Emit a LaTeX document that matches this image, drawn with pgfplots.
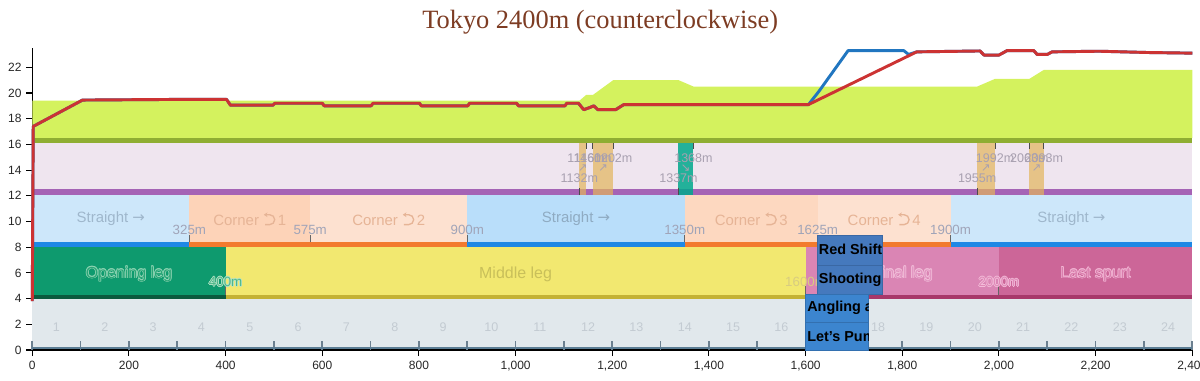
\documentclass[border=0pt]{standalone}
\usepackage{pgfplots}
\pgfplotsset{compat=1.18}
\usetikzlibrary{arrows.meta}
\usepackage{fontspec}
\setmainfont{Liberation Sans}
\newfontfamily\titlefont{Liberation Serif}
\newfontfamily\symfont{DejaVu Sans}

\definecolor{sectband}{HTML}{E1E8EC}
\definecolor{slate}{HTML}{5B7D94}
\definecolor{secttick}{HTML}{6C8090}
\definecolor{openc}{HTML}{0E9A6E}
\definecolor{openl}{HTML}{0B5A3E}
\definecolor{midc}{HTML}{F2E870}
\definecolor{midl}{HTML}{C4B234}
\definecolor{finc}{HTML}{DA85B4}
\definecolor{lastc}{HTML}{CC6698}
\definecolor{pinkl}{HTML}{A8386A}
\definecolor{str1}{HTML}{CDE7FA}
\definecolor{str2}{HTML}{B9DEFA}
\definecolor{cor1}{HTML}{FDD3B8}
\definecolor{cor2}{HTML}{FDE1D0}
\definecolor{cor3}{HTML}{FDD8C0}
\definecolor{strl}{HTML}{1E88E5}
\definecolor{corl}{HTML}{F27A2E}
\definecolor{slopeband}{HTML}{EFE5EF}
\definecolor{purplel}{HTML}{A563B5}
\definecolor{uphill}{HTML}{E3B55C}
\definecolor{downhill}{HTML}{00A88C}
\definecolor{terrain}{HTML}{D4F25E}
\definecolor{olive}{HTML}{8FAE32}
\definecolor{redline}{HTML}{CC3333}
\definecolor{blueline}{HTML}{2176C0}
\definecolor{skillA}{HTML}{4579BD}
\definecolor{skillB}{HTML}{3C85CF}
\definecolor{skillAd}{HTML}{3A68A4}
\definecolor{skillBd}{HTML}{3370B0}
\definecolor{titlec}{RGB}{125,60,35}
\definecolor{distc}{HTML}{A0A4B8}
\definecolor{strtxt}{HTML}{9FB7CC}
\definecolor{strtxtb}{HTML}{8FABC2}
\definecolor{cortxt}{HTML}{E6B496}
\definecolor{secttxt}{HTML}{C3CBD2}
\definecolor{slopetxt}{HTML}{A8A0B0}
\definecolor{opentxt}{HTML}{2AA677}
\definecolor{openout}{HTML}{8FD4B4}
\definecolor{ftxt}{HTML}{4FB88A}
\definecolor{fout}{HTML}{B5E3C8}
\definecolor{midtxt}{HTML}{C9C05A}
\definecolor{d1600}{HTML}{D8CC80}
\definecolor{fintxt}{HTML}{E296C2}
\definecolor{finout}{HTML}{F2BED9}
\definecolor{dtxt}{HTML}{E08AB8}
\definecolor{dout}{HTML}{F3BCD9}
\definecolor{lasttxt}{HTML}{DA7FAE}
\definecolor{lastout}{HTML}{F2B6D4}

% counterclockwise U-turn arrow symbol (no installed font has U+2B8C)
\newcommand{\cturn}{\tikz[baseline=-0.05em]{\draw[cortxt, line width=1pt, -{Stealth[length=2.8pt,width=3.6pt]}] (0,0) -- (0.32em,0) arc[start angle=-90, end angle=90, radius=0.33em] -- (-0.08em,0.66em);}}

\newcommand{\rect}[5]{\addplot[draw=none, forget plot, #5] coordinates {(#1,#3) (#2,#3) (#2,#4) (#1,#4)} -- cycle;}
\newcommand{\lblfont}{\fontsize{11.2}{13}\selectfont}
\newcommand{\phfont}{\fontsize{12}{14}\selectfont}
\newcommand{\smfont}{\fontsize{9.4}{11}\selectfont}
\newcommand{\dfont}{\fontsize{10}{12}\selectfont}
\newcommand{\skfont}{\fontsize{10.8}{12}\selectfont\bfseries}
\newcommand{\olbl}[6]{%
  \node[text=#5, xshift=0.5pt, font=#6] at (axis cs:#1,#2) {#3};
  \node[text=#5, xshift=-0.5pt, font=#6] at (axis cs:#1,#2) {#3};
  \node[text=#5, yshift=0.5pt, font=#6] at (axis cs:#1,#2) {#3};
  \node[text=#5, yshift=-0.5pt, font=#6] at (axis cs:#1,#2) {#3};
  \node[text=#5, xshift=0.35pt, yshift=0.35pt, font=#6] at (axis cs:#1,#2) {#3};
  \node[text=#5, xshift=-0.35pt, yshift=0.35pt, font=#6] at (axis cs:#1,#2) {#3};
  \node[text=#5, xshift=0.35pt, yshift=-0.35pt, font=#6] at (axis cs:#1,#2) {#3};
  \node[text=#5, xshift=-0.35pt, yshift=-0.35pt, font=#6] at (axis cs:#1,#2) {#3};
  \node[text=#4, font=#6] at (axis cs:#1,#2) {#3};}

\begin{document}
\begin{tikzpicture}
\begin{axis}[
  at={(0,0)}, anchor=south west,
  scale only axis, width=870pt, height=226.5pt,
  xmin=0, xmax=2400, ymin=0, ymax=23.5,
  axis x line=bottom, axis y line=left,
  axis line style={-, black, line width=1pt},
  xtick={0,200,...,2400}, ytick={0,2,...,22},
  tick style={black, line width=0.8pt}, major tick length=4.5pt, tick align=outside,
  /pgf/number format/assume math mode=true,
  /pgf/number format/1000 sep={,},
  ticklabel style={font=\fontsize{9}{10}\selectfont, text=black!85},
  clip=false,
]
% ---- section band ----
\rect{0}{2400}{0.27}{3.95}{fill=sectband}
\addplot[ycomb, mark=none, draw=secttick, line width=1.2pt, forget plot] coordinates {
(0,0.7) (100,0.7) (200,0.7) (300,0.7) (400,0.7) (500,0.7) (600,0.7) (700,0.7) (800,0.7) (900,0.7) (1000,0.7) (1100,0.7) (1200,0.7) (1300,0.7) (1400,0.7) (1500,0.7) (1600,0.7) (1700,0.7) (1800,0.7) (1900,0.7) (2000,0.7) (2100,0.7) (2200,0.7) (2300,0.7) (2400,0.7)};
\rect{0}{2400}{0.05}{0.27}{fill=slate}
% ---- phase band ----
\rect{0}{400}{4.28}{8.0}{fill=openc}
\rect{400}{1600}{4.28}{8.0}{fill=midc}
\rect{1600}{2000}{4.28}{8.0}{fill=finc}
\rect{2000}{2400}{4.28}{8.0}{fill=lastc}
\rect{0}{400}{3.95}{4.28}{fill=openl}
\rect{400}{1600}{3.95}{4.28}{fill=midl}
\rect{1600}{2400}{3.95}{4.28}{fill=pinkl}
% ---- corner / straight band ----
\rect{0}{325}{8.4}{12.05}{fill=str1}
\rect{325}{575}{8.4}{12.05}{fill=cor1}
\rect{575}{900}{8.4}{12.05}{fill=cor2}
\rect{900}{1350}{8.4}{12.05}{fill=str2}
\rect{1350}{1625}{8.4}{12.05}{fill=cor3}
\rect{1625}{1900}{8.4}{12.05}{fill=cor2}
\rect{1900}{2400}{8.4}{12.05}{fill=str1}
\rect{0}{325}{8.0}{8.4}{fill=strl}
\rect{325}{900}{8.0}{8.4}{fill=corl}
\rect{900}{1350}{8.0}{8.4}{fill=strl}
\rect{1350}{1900}{8.0}{8.4}{fill=corl}
\rect{1900}{2400}{8.0}{8.4}{fill=strl}
% ---- slope band ----
\rect{0}{2400}{12.5}{16.1}{fill=slopeband}
\rect{0}{2400}{12.05}{12.5}{fill=purplel}
\rect{1132}{1146}{12.05}{16.1}{fill=uphill, fill opacity=0.7}
\rect{1160}{1202}{12.05}{16.1}{fill=uphill, fill opacity=0.7}
\rect{1337}{1368}{12.05}{16.1}{fill=downhill, fill opacity=0.85}
\rect{1955}{1992}{12.05}{16.1}{fill=uphill, fill opacity=0.7}
\rect{2063}{2093}{12.05}{16.1}{fill=uphill, fill opacity=0.7}
% slope boundary ticks
\addplot[draw=black!70, line width=0.7pt, forget plot] coordinates {(1132,12.05) (1132,12.6)};
\addplot[draw=black!70, line width=0.7pt, forget plot] coordinates {(1337,12.05) (1337,12.6)};
\addplot[draw=black!70, line width=0.7pt, forget plot] coordinates {(1955,12.05) (1955,12.6)};
\addplot[draw=black!70, line width=0.7pt, forget plot] coordinates {(1146,15.65) (1146,16.1)};
\addplot[draw=black!70, line width=0.7pt, forget plot] coordinates {(1160,15.65) (1160,16.1)};
\addplot[draw=black!70, line width=0.7pt, forget plot] coordinates {(1202,15.65) (1202,16.1)};
\addplot[draw=black!70, line width=0.7pt, forget plot] coordinates {(1368,15.65) (1368,16.1)};
\addplot[draw=black!70, line width=0.7pt, forget plot] coordinates {(1992,15.65) (1992,16.1)};
\addplot[draw=black!70, line width=0.7pt, forget plot] coordinates {(2063,15.65) (2063,16.1)};
\addplot[draw=black!70, line width=0.7pt, forget plot] coordinates {(2093,15.65) (2093,16.1)};
% ---- terrain ----
\rect{0}{2400}{16.1}{16.5}{fill=olive}
\addplot[draw=none, fill=terrain, forget plot] coordinates {
(0,16.5) (0,19.4) (1132,19.4) (1146,19.85) (1160,19.85) (1202,21.0) (1337,21.0) (1368,20.5)
(1955,20.5) (1992,21.1) (2063,21.1) (2093,21.8) (2400,21.8) (2400,16.5)} -- cycle;
% ---- boundary ticks in corner / phase bands ----
\addplot[draw=black!60, line width=0.7pt, forget plot] coordinates {(325,8.4) (325,8.95)};
\addplot[draw=black!60, line width=0.7pt, forget plot] coordinates {(575,8.4) (575,8.95)};
\addplot[draw=black!60, line width=0.7pt, forget plot] coordinates {(900,8.4) (900,8.95)};
\addplot[draw=black!60, line width=0.7pt, forget plot] coordinates {(1350,8.4) (1350,8.95)};
\addplot[draw=black!60, line width=0.7pt, forget plot] coordinates {(1625,8.4) (1625,8.95)};
\addplot[draw=black!60, line width=0.7pt, forget plot] coordinates {(1900,8.4) (1900,8.95)};
\addplot[draw=black!60, line width=0.7pt, forget plot] coordinates {(400,4.28) (400,4.95)};
\addplot[draw=black!60, line width=0.7pt, forget plot] coordinates {(1600,4.28) (1600,4.95)};
\addplot[draw=black!60, line width=0.7pt, forget plot] coordinates {(2000,4.28) (2000,4.95)};
% ---- texts: sections ----
\node[text=secttxt, font=\smfont] at (axis cs:50,1.8) {1};
\node[text=secttxt, font=\smfont] at (axis cs:150,1.8) {2};
\node[text=secttxt, font=\smfont] at (axis cs:250,1.8) {3};
\node[text=secttxt, font=\smfont] at (axis cs:350,1.8) {4};
\node[text=secttxt, font=\smfont] at (axis cs:450,1.8) {5};
\node[text=secttxt, font=\smfont] at (axis cs:550,1.8) {6};
\node[text=secttxt, font=\smfont] at (axis cs:650,1.8) {7};
\node[text=secttxt, font=\smfont] at (axis cs:750,1.8) {8};
\node[text=secttxt, font=\smfont] at (axis cs:850,1.8) {9};
\node[text=secttxt, font=\smfont] at (axis cs:950,1.8) {10};
\node[text=secttxt, font=\smfont] at (axis cs:1050,1.8) {11};
\node[text=secttxt, font=\smfont] at (axis cs:1150,1.8) {12};
\node[text=secttxt, font=\smfont] at (axis cs:1250,1.8) {13};
\node[text=secttxt, font=\smfont] at (axis cs:1350,1.8) {14};
\node[text=secttxt, font=\smfont] at (axis cs:1450,1.8) {15};
\node[text=secttxt, font=\smfont] at (axis cs:1550,1.8) {16};
\node[text=secttxt, font=\smfont] at (axis cs:1650,1.8) {17};
\node[text=secttxt, font=\smfont] at (axis cs:1750,1.8) {18};
\node[text=secttxt, font=\smfont] at (axis cs:1850,1.8) {19};
\node[text=secttxt, font=\smfont] at (axis cs:1950,1.8) {20};
\node[text=secttxt, font=\smfont] at (axis cs:2050,1.8) {21};
\node[text=secttxt, font=\smfont] at (axis cs:2150,1.8) {22};
\node[text=secttxt, font=\smfont] at (axis cs:2250,1.8) {23};
\node[text=secttxt, font=\smfont] at (axis cs:2350,1.8) {24};
% ---- texts: phases ----
\olbl{200}{5.9}{Opening leg}{opentxt}{openout}{\phfont}
\olbl{400}{5.3}{400m}{ftxt}{fout}{\dfont}
\node[text=midtxt, font=\phfont] at (axis cs:1000,5.9) {Middle leg};
\node[text=d1600, font=\dfont] at (axis cs:1600,5.3) {1600m};
\olbl{1800}{5.9}{Final leg}{fintxt}{finout}{\phfont}
\olbl{2000}{5.3}{2000m}{dtxt}{dout}{\dfont}
\olbl{2200}{5.9}{Last spurt}{lasttxt}{lastout}{\phfont}
% ---- texts: corners ----
\node[text=strtxt, font=\lblfont] at (axis cs:162.5,10.2) {Straight {\symfont →}};
\node[text=cortxt, font=\lblfont] at (axis cs:450,10.2) {Corner \cturn\,1};
\node[text=cortxt, font=\lblfont] at (axis cs:737.5,10.2) {Corner \cturn\,2};
\node[text=strtxtb, font=\lblfont] at (axis cs:1125,10.2) {Straight {\symfont →}};
\node[text=cortxt, font=\lblfont] at (axis cs:1487.5,10.2) {Corner \cturn\,3};
\node[text=cortxt, font=\lblfont] at (axis cs:1762.5,10.2) {Corner \cturn\,4};
\node[text=strtxt, font=\lblfont] at (axis cs:2150,10.2) {Straight {\symfont →}};
\node[text=distc, font=\dfont] at (axis cs:325,9.35) {325m};
\node[text=distc, font=\dfont] at (axis cs:575,9.35) {575m};
\node[text=distc, font=\dfont] at (axis cs:900,9.35) {900m};
\node[text=distc, font=\dfont] at (axis cs:1350,9.35) {1350m};
\node[text=distc, font=\dfont] at (axis cs:1625,9.35) {1625m};
\node[text=distc, font=\dfont] at (axis cs:1900,9.35) {1900m};
% ---- texts: slopes ----
\node[text=slopetxt, font=\smfont] at (axis cs:1132,13.35) {1132m};
\node[text=slopetxt, font=\smfont] at (axis cs:1337,13.35) {1337m};
\node[text=slopetxt, font=\smfont] at (axis cs:1955,13.35) {1955m};
\node[text=slopetxt, font=\smfont] at (axis cs:1146,14.9) {1146m};
\node[text=slopetxt, font=\smfont] at (axis cs:1160,14.9) {1160m};
\node[text=slopetxt, font=\smfont] at (axis cs:1202,14.9) {1202m};
\node[text=slopetxt, font=\smfont] at (axis cs:1368,14.9) {1368m};
\node[text=slopetxt, font=\smfont] at (axis cs:1992,14.9) {1992m};
\node[text=slopetxt, font=\smfont] at (axis cs:2063,14.9) {2063m};
\node[text=slopetxt, font=\smfont] at (axis cs:2093,14.9) {2093m};
\node[text=slopetxt, font=\symfont\fontsize{8.5}{10}\selectfont] at (axis cs:1139,14.15) {↗};
\node[text=slopetxt, font=\symfont\fontsize{8.5}{10}\selectfont] at (axis cs:1181,14.15) {↗};
\node[text=slopetxt, font=\symfont\fontsize{8.5}{10}\selectfont] at (axis cs:1352,14.15) {↘};
\node[text=slopetxt, font=\symfont\fontsize{8.5}{10}\selectfont] at (axis cs:1973,14.15) {↗};
\node[text=slopetxt, font=\symfont\fontsize{8.5}{10}\selectfont] at (axis cs:2078,14.15) {↗};
% ---- skills ----
\rect{1625}{1759}{6.6}{8.9}{fill=skillA, draw=skillAd, line width=0.4pt}
\rect{1625}{1759}{4.3}{6.6}{fill=skillA, draw=skillAd, line width=0.4pt}
\rect{1600}{1730}{2.15}{4.3}{fill=skillB, draw=skillBd, line width=0.4pt}
\rect{1600}{1730}{0.0}{2.15}{fill=skillB, draw=skillBd, line width=0.4pt}
\begin{scope}
\clip (axis cs:1625,4.3) rectangle (axis cs:1759,8.9);
\node[anchor=west, inner sep=0pt, text=black, font=\skfont] at (axis cs:1627,7.8) {Red Shift};
\node[anchor=west, inner sep=0pt, text=black, font=\skfont] at (axis cs:1627,5.5) {Shooting Star};
\end{scope}
\begin{scope}
\clip (axis cs:1600,0) rectangle (axis cs:1730,4.3);
\node[anchor=west, inner sep=0pt, text=black, font=\skfont] at (axis cs:1603,3.25) {Angling and Scheming};
\node[anchor=west, inner sep=0pt, text=black, font=\skfont] at (axis cs:1603,0.95) {Let's Pump Some Iron!};
\end{scope}
% ---- speed lines ----
\addplot[blueline, line width=2.2pt, line join=round, mark=none] coordinates {
(0,3.8) (2,17.4) (104,19.45) (300,19.5) (402,19.5) (410,19.05) (498,19.05) (502,19.2) (600,19.2) (604,19.0) (701,19.0) (705,19.2) (801,19.2) (805,19.0) (901,19.0) (905,19.2) (1002,19.2) (1006,19.0) (1102,19.0) (1106,19.2) (1130,19.2) (1141,18.7) (1152,18.85) (1162,19.0) (1170,18.7) (1207,18.7) (1224,19.1) (1606,19.1)
(1627,20.1) (1688,23.3) (1803,23.3) (1813,23.0) (1830,23.2)
(1961,23.27) (1969,22.95) (2000,22.95) (2017,23.3) (2072,23.3) (2079,23.0) (2100,23.0) (2110,23.2) (2207,23.25) (2307,23.15) (2400,23.1)};
\addplot[redline, line width=2.2pt, line join=round, mark=none] coordinates {
(0,3.8) (2,17.4) (104,19.45) (300,19.5) (402,19.5) (410,19.05) (498,19.05) (502,19.2) (600,19.2) (604,19.0) (701,19.0) (705,19.2) (801,19.2) (805,19.0) (901,19.0) (905,19.2) (1002,19.2) (1006,19.0) (1102,19.0) (1106,19.2) (1130,19.2) (1141,18.7) (1152,18.85) (1162,19.0) (1170,18.7) (1207,18.7) (1224,19.1) (1606,19.1)
(1830,23.2)
(1961,23.27) (1969,22.95) (2000,22.95) (2017,23.3) (2072,23.3) (2079,23.0) (2100,23.0) (2110,23.2) (2207,23.25) (2307,23.15) (2400,23.1)};
\end{axis}
\node[anchor=base, text=titlec, font=\titlefont\fontsize{19.8}{22}\selectfont] at (426pt,241pt) {Tokyo 2400m (counterclockwise)};
\pgfresetboundingbox
\path[use as bounding box] (-24.2pt,-22.5pt) rectangle (875.8pt,262.5pt);
\end{tikzpicture}
\end{document}
